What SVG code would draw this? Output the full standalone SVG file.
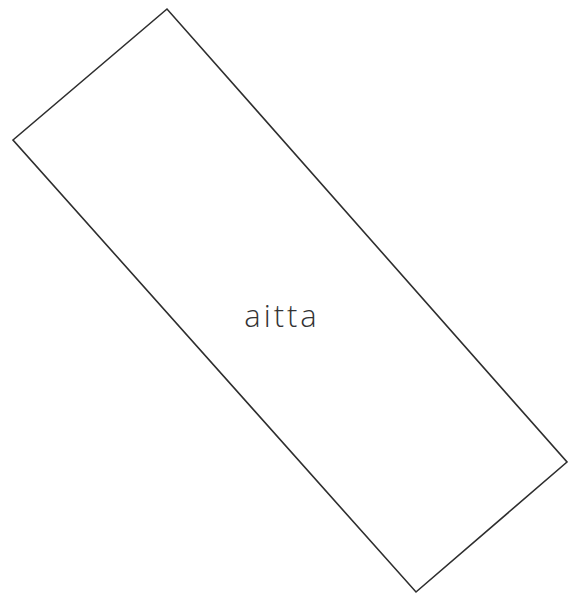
<svg xmlns="http://www.w3.org/2000/svg" width="569" height="596" viewBox="0 0 569 596">
<style>
.wall{fill:none;stroke:#2e2e2e;stroke-width:1.6;stroke-linejoin:miter}
.lbl{font-family:"Open Sans","Liberation Sans",sans-serif;font-weight:300;font-size:31px;fill:#333}
</style>
<rect width="569" height="596" fill="#fff"/>
<g id="aitta">
<polygon class="wall" points="167,9 13,140 416,592 567,462"/>
<text class="lbl" x="282" y="327" text-anchor="middle" letter-spacing="3">aitta</text>
</g>
</svg>
